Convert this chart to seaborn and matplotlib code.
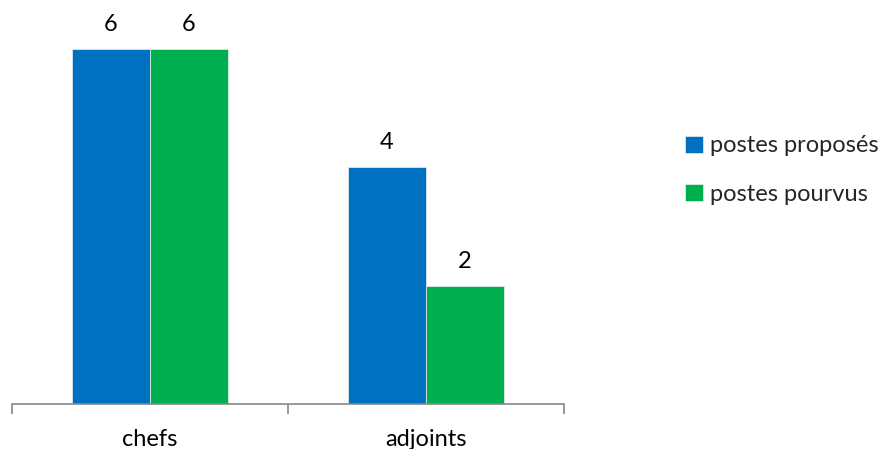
import matplotlib
matplotlib.use("Agg")
import matplotlib.pyplot as plt
import seaborn as sns
import pandas as pd

categories = ["chefs", "adjoints"]
series = ["postes proposés", "postes pourvus"]
proposes = [6, 4]
pourvus = [6, 2]

colors = ["#0070C0", "#00B050"]

df = pd.DataFrame({
    "categorie": categories * 2,
    "serie": [series[0]] * len(categories) + [series[1]] * len(categories),
    "valeur": proposes + pourvus,
})

sns.set_theme(style="white")
plt.rcParams["font.family"] = ["Lato", "DejaVu Sans"]

fig = plt.figure(figsize=(8.79, 4.49), dpi=100)
ax = fig.add_axes([12 / 879, 45 / 449, 552 / 879, 394 / 449])

sns.barplot(data=df, x="categorie", y="valeur", hue="serie", order=categories,
            hue_order=series, palette=colors, width=0.566, saturation=1,
            edgecolor="#f0f0f0", linewidth=0.5, ax=ax, legend=True)

for cont in ax.containers:
    ax.bar_label(cont, fmt="%g", padding=10, fontsize=17, color="#000000")

ax.set_xlim(-0.5, 1.5)
ax.set_ylim(0, 394 / (355 / 6))
ax.set_xlabel("")
ax.set_ylabel("")
ax.set_yticks([])

# category boundaries carry the tick marks, labels sit at the centres
ax.set_xticks([-0.5, 0.5, 1.5], minor=True)
ax.tick_params(axis="x", which="minor", length=7, width=1.2, color="#888888",
               direction="out", bottom=True)
ax.tick_params(axis="x", which="major", length=0, pad=18, labelsize=17,
               labelcolor="#000000")

for side in ["top", "right", "left"]:
    ax.spines[side].set_visible(False)
ax.spines["bottom"].set_color("#888888")
ax.spines["bottom"].set_linewidth(1.2)

handles, labels = ax.get_legend_handles_labels()
ax.legend(handles, labels, loc="upper left", bbox_to_anchor=(676 / 879, 1 - 126 / 449),
          bbox_transform=fig.transFigure, frameon=False, fontsize=17,
          handlelength=0.75, handleheight=0.75, handletextpad=0.3,
          labelspacing=1.15, borderaxespad=0)

fig.savefig("out.png", dpi=100)
